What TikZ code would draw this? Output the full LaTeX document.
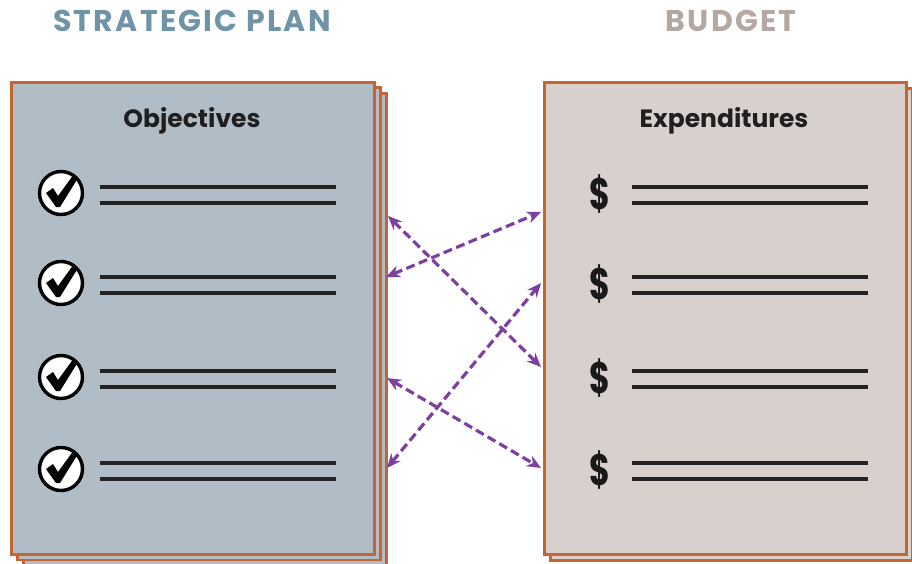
\documentclass[tikz,border=0pt]{standalone}
\usepackage{fontspec}
\setmainfont{Poppins}
\newfontfamily\titlefont[LetterSpace=7.5]{Poppins}
\usetikzlibrary{arrows.meta}
\definecolor{planfill}{RGB}{176,189,199}
\definecolor{budfill}{RGB}{216,208,204}
\definecolor{edgeorange}{RGB}{196,101,50}
\definecolor{arrowpurple}{RGB}{125,64,160}
\definecolor{plantitle}{RGB}{111,147,167}
\definecolor{budtitle}{RGB}{181,168,162}
\definecolor{inkline}{RGB}{35,35,35}
\tikzset{
  planpage/.style={draw=edgeorange, line width=2.6pt, fill=planfill, inner sep=0pt, anchor=north west, minimum width=363pt, minimum height=472pt},
  budpage/.style={draw=edgeorange, line width=2.6pt, fill=budfill, inner sep=0pt, anchor=north west, minimum width=362pt, minimum height=472pt},
  headtext/.style={font=\bfseries\fontsize{25}{27}\selectfont, text=black!88, anchor=base},
  titletext/.style={font=\titlefont\bfseries\fontsize{30}{32}\selectfont, anchor=base},
  ruleline/.style={draw=inkline, line width=3.2pt},
  checkcircle/.style={circle, draw=black, line width=3.4pt, fill=white, minimum size=43pt, inner sep=0pt},
  dollar/.style={font=\bfseries\fontsize{44}{46}\selectfont, text=black!90, inner sep=0pt, xscale=0.72},
  link/.style={draw=arrowpurple, line width=3.2pt, dash pattern=on 9pt off 4.5pt, {Stealth[length=14pt,width=12pt]}-{Stealth[length=14pt,width=12pt]}}
}
\begin{document}
\begin{tikzpicture}[x=1pt,y=-1pt]
\useasboundingbox (0,0) rectangle (912,564);
% titles
\node[titletext, text=plantitle] (plantitle) at (192,32) {STRATEGIC PLAN};
\node[titletext, text=budtitle] (budtitle) at (731,32) {BUDGET};
% strategic plan pages
\node[planpage] (plan3) at (22,92) {};
\node[planpage] (plan2) at (16,86.5) {};
\node[planpage] (plan1) at (10,81) {};
% budget pages
\node[budpage] (bud2) at (549,87) {};
\node[budpage] (bud1) at (543,81) {};
% headings
\node[headtext] (objh) at (192,128) {Objectives};
\node[headtext] (exph) at (724,128) {Expenditures};
% rows
\foreach \i/\y in {1/193,2/283,3/377,4/469}{
  \node[checkcircle] (chk\i) at (61,\y) {};
  \fill[black] ([shift={(-15,0)}]chk\i.center) -- ([shift={(-8,-5)}]chk\i.center) -- ([shift={(-3,3)}]chk\i.center)
     -- ([shift={(13,-19)}]chk\i.center) -- ([shift={(17,-15)}]chk\i.center) -- ([shift={(-1,14)}]chk\i.center) -- ([shift={(-5,14)}]chk\i.center) -- cycle;
  \coordinate (la\i) at (100,\y-6);
  \coordinate (lb\i) at (336,\y-6);
  \coordinate (lc\i) at (100,\y+10);
  \coordinate (ld\i) at (336,\y+10);
  \draw[ruleline] (la\i) -- (lb\i);
  \draw[ruleline] (lc\i) -- (ld\i);
  \node[dollar] (dol\i) at (600,\y+1) {\$};
  \coordinate (ra\i) at (632,\y-6);
  \coordinate (rb\i) at (868,\y-6);
  \coordinate (rc\i) at (632,\y+10);
  \coordinate (rd\i) at (868,\y+10);
  \draw[ruleline] (ra\i) -- (rb\i);
  \draw[ruleline] (rc\i) -- (rd\i);
}
% arrow endpoints
\coordinate (pl1) at (388,216);
\coordinate (pl2) at (386,277);
\coordinate (pl3) at (387,378);
\coordinate (pl4) at (387,468);
\coordinate (pr1) at (541,212);
\coordinate (pr2) at (541,283);
\coordinate (pr3) at (541,367);
\coordinate (pr4) at (541,468);
\draw[link] (pl1) -- (pr3);
\draw[link] (pl2) -- (pr1);
\draw[link] (pl3) -- (pr4);
\draw[link] (pl4) -- (pr2);
\end{tikzpicture}
\end{document}
